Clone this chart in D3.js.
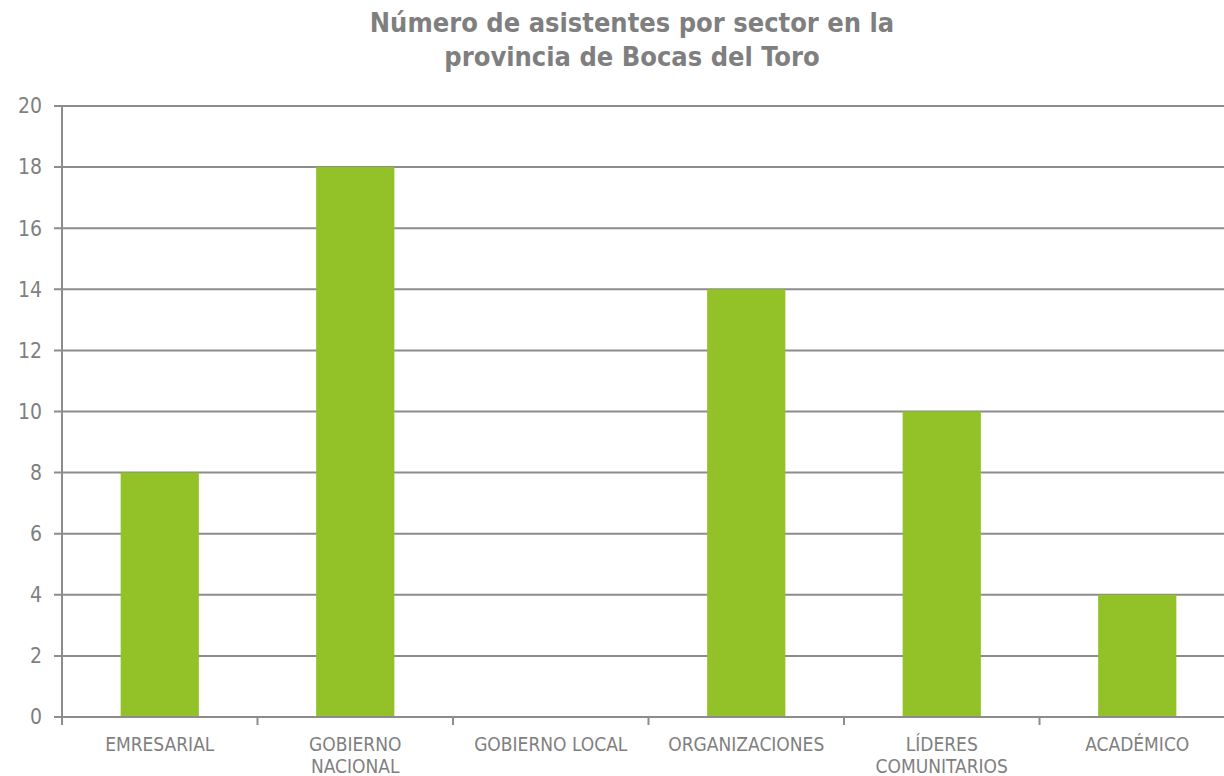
<!DOCTYPE html>
<html><head><meta charset="utf-8">
<script src="https://d3js.org/d3.v7.min.js"></script>
<style>
  body { margin: 0; background: #fff; }
  text { font-family: "DejaVu Sans Condensed", "DejaVu Sans", sans-serif; fill: #7f7f7f; }
</style>
</head>
<body>
<div class="chart"></div>
<script>
var categories = [["EMRESARIAL"], ["GOBIERNO", "NACIONAL"], ["GOBIERNO LOCAL"], ["ORGANIZACIONES"], ["LÍDERES", "COMUNITARIOS"], ["ACADÉMICO"]];
var values = [8, 18, 0, 14, 10, 4];
var yTicks = [0, 2, 4, 6, 8, 10, 12, 14, 16, 18, 20];
var titleLines = ["Número de asistentes por sector en la", "provincia de Bocas del Toro"];

var width = 1224, height = 776;
var plotL = 62, plotR = 1235, plotT = 106, plotB = 717;

var svg = d3.select("div.chart").append("svg")
  .attr("width", width).attr("height", height);

var x = d3.scaleBand().domain(d3.range(categories.length)).range([plotL, plotR]);
var y = d3.scaleLinear().domain([0, 20]).range([plotB, plotT]);

// gridlines + y ticks
svg.append("g").selectAll("line").data(yTicks).enter().append("line")
  .attr("x1", plotL - 8).attr("x2", plotR)
  .attr("y1", function(d){ return y(d); }).attr("y2", function(d){ return y(d); })
  .style("stroke", "#8c8c8c").style("stroke-width", 2);

svg.append("g").selectAll("text").data(yTicks).enter().append("text")
  .attr("x", 42).attr("y", function(d){ return y(d); })
  .attr("dy", "0.35em").attr("text-anchor", "end")
  .style("font-size", "21px")
  .text(function(d){ return d; });

// bars
var bw = x.bandwidth() * 0.4;
svg.append("g").selectAll("rect").data(values).enter().append("rect")
  .attr("x", function(d, i){ return x(i) + (x.bandwidth() - bw) / 2; })
  .attr("y", function(d){ return y(d); })
  .attr("width", bw)
  .attr("height", function(d){ return y(0) - y(d); })
  .style("fill", "#92c227");

// y axis line
svg.append("line").attr("x1", plotL).attr("x2", plotL).attr("y1", plotT).attr("y2", plotB)
  .style("stroke", "#8c8c8c").style("stroke-width", 2);
// x axis line
svg.append("line").attr("x1", plotL - 8).attr("x2", plotR).attr("y1", plotB).attr("y2", plotB)
  .style("stroke", "#8c8c8c").style("stroke-width", 2);

// category tick marks
svg.append("g").selectAll("line").data(d3.range(categories.length + 1)).enter().append("line")
  .attr("x1", function(i){ return plotL + i * x.step(); })
  .attr("x2", function(i){ return plotL + i * x.step(); })
  .attr("y1", plotB).attr("y2", plotB + 8)
  .style("stroke", "#8c8c8c").style("stroke-width", 2);

// category labels
var lab = svg.append("g").selectAll("text").data(categories).enter().append("text")
  .attr("text-anchor", "middle")
  .style("font-size", "19px");
lab.selectAll("tspan").data(function(d, i){ return d.map(function(t){ return {t: t, i: i}; }); })
  .enter().append("tspan")
  .attr("x", function(d){ return x(d.i) + x.bandwidth() / 2; })
  .attr("y", function(d, j){ return 751 + j * 22; })
  .text(function(d){ return d.t; });

// title
svg.append("g").selectAll("text").data(titleLines).enter().append("text")
  .attr("x", 632).attr("y", function(d, i){ return 32 + i * 34; })
  .attr("text-anchor", "middle")
  .style("font-size", "27px").style("font-weight", "bold")
  .text(function(d){ return d; });
</script>
</body></html>
